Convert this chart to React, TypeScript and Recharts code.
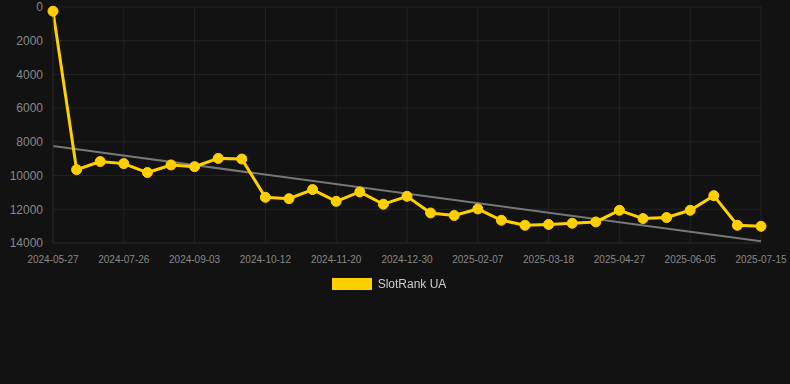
import { LineChart, Line, XAxis, YAxis, CartesianGrid, Legend, ReferenceLine } from "recharts";

const dates = [
    "2024-05-27", "2024-06-16", "2024-07-06", "2024-07-26", "2024-08-08", "2024-08-21",
    "2024-09-03", "2024-09-16", "2024-09-29", "2024-10-12", "2024-10-25", "2024-11-07",
    "2024-11-20", "2024-12-03", "2024-12-16", "2024-12-30", "2025-01-12", "2025-01-25",
    "2025-02-07", "2025-02-20", "2025-03-05", "2025-03-18", "2025-03-31", "2025-04-13",
    "2025-04-27", "2025-05-10", "2025-05-23", "2025-06-05", "2025-06-18", "2025-07-01",
    "2025-07-15",
];

const ranks = [
    250, 9650, 9170, 9290, 9820, 9370, 9470, 8980, 9020, 11290, 11370, 10830,
    11530, 10970, 11700, 11230, 12220, 12370, 11980, 12650, 12950, 12900, 12830, 12750,
    12060, 12550, 12490, 12060, 11190, 12950, 13010,
];

const yTicks = [0, 2000, 4000, 6000, 8000, 10000, 12000, 14000];
const trendStart = 8250;
const trendEnd = 13900;

const data = dates.map((d, i) => ({ date: d, rank: ranks[i] }));

const YELLOW = "#FFD000";

function LegendBox() {
    return (
        <div style={{ display: "flex", justifyContent: "center", alignItems: "center", fontFamily: "'Liberation Sans', Arial, sans-serif" }}>
            <span style={{ display: "inline-block", width: 40, height: 12, background: YELLOW, marginRight: 6 }} />
            <span style={{ fontSize: 12, color: "#cccccc" }}>SlotRank UA</span>
        </div>
    );
}

export default function App() {
    return (
        <div style={{ position: "fixed", left: 0, top: 0, width: 790, height: 384, background: "#121212" }}>
            <LineChart
                width={790}
                height={384}
                data={data}
                margin={{ top: 7, right: 29, left: 0, bottom: 111 }}
                style={{ fontFamily: "'Liberation Sans', Arial, sans-serif" }}
            >
                <CartesianGrid stroke="#232323" strokeWidth={1} />
                <XAxis
                    dataKey="date"
                    interval={2}
                    height={30}
                    tick={{ fill: "#888888", fontSize: 10 }}
                    tickLine={false}
                    axisLine={{ stroke: "#232323" }}
                    tickMargin={7}
                />
                <YAxis
                    reversed
                    domain={[0, 14000]}
                    ticks={yTicks}
                    interval={0}
                    width={53}
                    tick={{ fill: "#888888", fontSize: 12 }}
                    tickLine={false}
                    axisLine={{ stroke: "#232323" }}
                    tickMargin={4}
                />
                <ReferenceLine
                    segment={[
                        { x: dates[0], y: trendStart },
                        { x: dates[dates.length - 1], y: trendEnd },
                    ]}
                    stroke="#777777"
                    strokeWidth={2}
                />
                <Line
                    type="linear"
                    dataKey="rank"
                    name="SlotRank UA"
                    stroke={YELLOW}
                    strokeWidth={3}
                    dot={{ r: 5, fill: YELLOW, stroke: YELLOW, strokeWidth: 1 }}
                    activeDot={false}
                    isAnimationActive={false}
                />
                <Legend
                    verticalAlign="middle"
                    align="center"
                    content={() => <LegendBox />}
                    wrapperStyle={{ top: 277, left: -6, width: 790 }}
                />
            </LineChart>
        </div>
    );
}
